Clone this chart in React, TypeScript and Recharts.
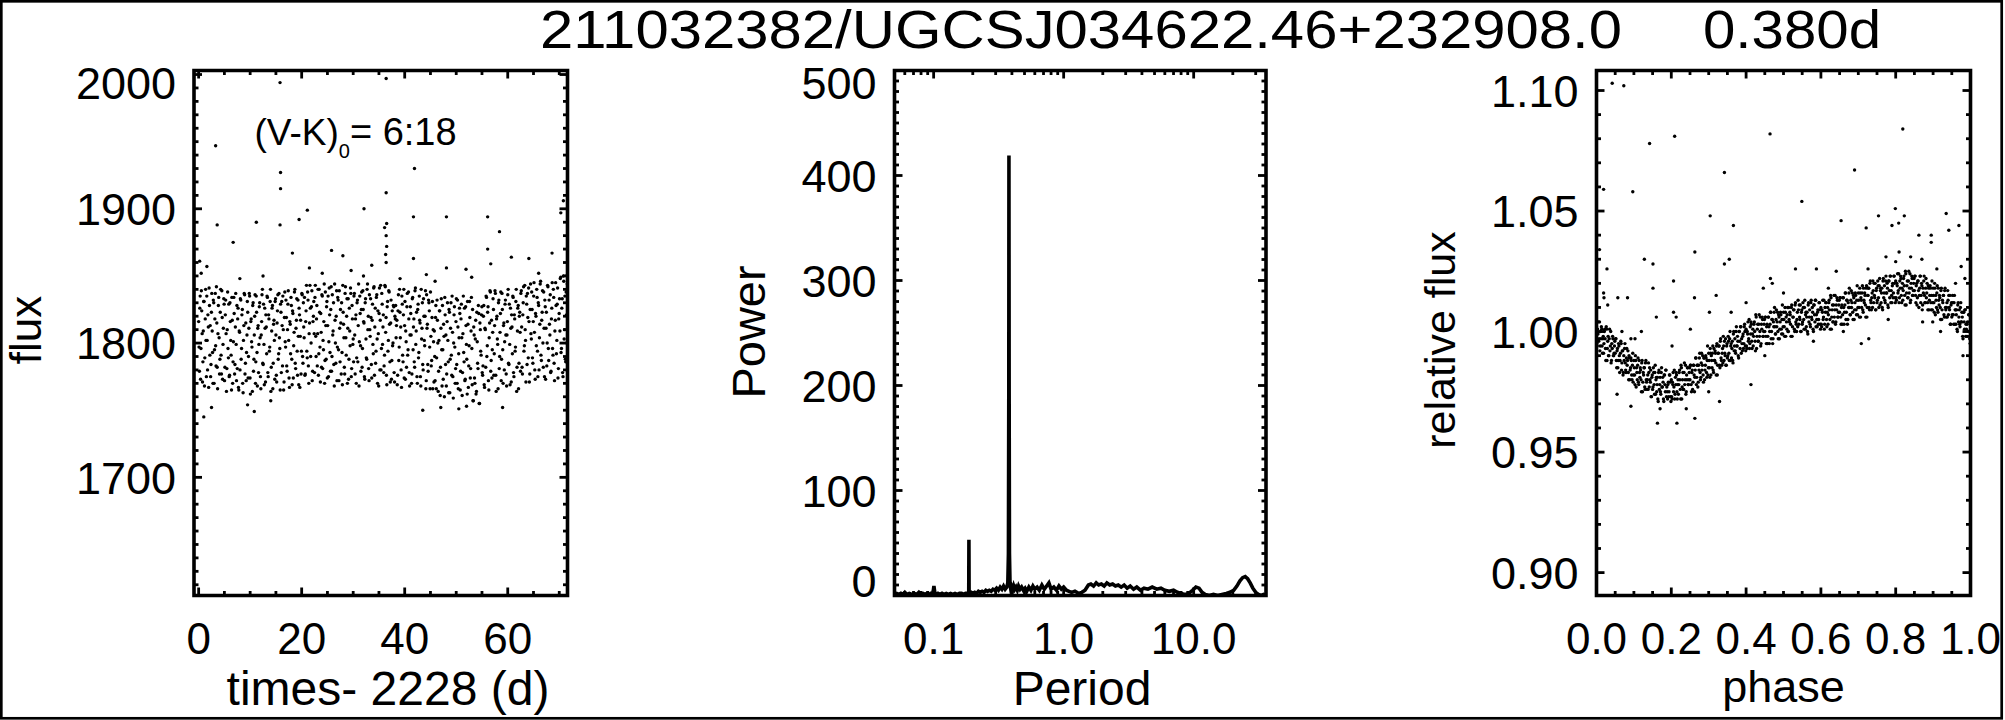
import React from 'react';
import { ScatterChart, Scatter, LineChart, Line, XAxis, YAxis, ReferenceArea } from 'recharts';

const FONT = '"Liberation Sans", Arial, Helvetica, sans-serif';
const W = 2005;
const H = 720;
const TOP = 70.5;
const BOTTOM = 595.5;
const AX = 40; // space reserved by each axis component

// ---------- Panel 1: light curve (time - 2228 d, flux) ----------
const lcTime = [
  0.00,0.15,0.30,0.45,0.60,0.75,0.90,1.05,1.20,1.35,1.50,1.65,1.80,1.95,2.10,2.25,2.40,2.55,2.70,2.85,3.00,3.15,3.30,3.45,3.60,3.75,3.90,4.05,4.20,4.35,4.50,4.65,4.80,4.95,
  5.10,5.25,5.40,5.55,5.70,5.85,6.00,6.15,6.30,6.45,6.60,6.75,6.90,7.05,7.20,7.35,7.50,7.65,7.80,7.95,8.10,8.25,8.40,8.55,8.70,8.85,9.00,9.15,9.30,9.45,9.60,9.75,9.90,10.05,10.20,10.35,10.50,10.65,10.80,10.95,11.10,11.25,11.40,11.55,11.70,11.85,12.00,
  12.15,12.30,12.45,12.60,12.75,12.90,13.05,13.20,13.35,13.50,13.65,13.80,13.95,14.10,14.25,14.40,14.55,14.70,14.85,15.00,15.15,15.30,15.45,15.60,15.75,15.90,16.05,16.20,16.35,16.50,16.65,16.80,16.95,17.10,17.25,17.40,17.55,17.70,17.85,18.00,18.15,18.30,18.45,18.60,18.75,18.90,19.05,19.20,19.35,19.50,19.65,19.80,19.95,20.10,
  20.25,20.40,20.55,20.70,20.85,21.00,21.15,21.30,21.45,21.60,21.75,21.90,22.05,22.20,22.35,22.50,22.65,22.80,22.95,23.10,23.25,23.40,23.55,23.70,23.85,24.00,24.15,24.30,24.45,24.60,24.75,24.90,25.05,25.20,25.35,25.50,25.65,25.80,25.95,26.10,26.25,26.40,26.55,26.70,26.85,27.00,27.15,27.30,27.45,27.60,27.75,27.90,28.05,28.20,28.35,28.50,28.65,28.80,28.95,29.10,29.25,29.40,29.55,29.70,29.85,30.00,
  30.15,30.30,30.45,30.60,30.75,30.90,31.05,31.20,31.35,31.50,31.65,31.80,31.95,32.10,32.25,32.40,32.55,32.70,32.85,33.00,33.15,33.30,33.45,33.60,33.75,33.90,34.05,34.20,34.35,34.50,34.65,34.80,34.95,35.10,35.25,35.40,35.55,35.70,35.85,36.00,36.15,36.30,36.45,36.60,36.75,36.90,37.05,37.20,37.35,37.50,37.65,37.80,37.95,38.10,
  38.25,38.40,38.55,38.70,38.85,39.00,39.15,39.30,39.45,39.60,39.75,39.90,40.05,40.20,40.35,40.50,40.65,40.80,40.95,41.10,41.25,41.40,41.55,41.70,41.85,42.00,42.15,42.30,42.45,42.60,42.75,42.90,43.05,43.20,43.35,43.50,43.65,43.80,43.95,44.10,44.25,44.40,44.55,44.70,44.85,45.00,
  45.15,45.30,45.45,45.60,45.75,45.90,46.05,46.20,46.35,46.50,46.65,46.80,46.95,47.10,47.25,47.40,47.55,47.70,47.85,48.00,48.15,48.30,48.45,48.60,48.75,48.90,49.05,49.20,49.35,49.50,49.65,49.80,49.95,50.10,50.25,50.40,50.55,50.70,50.85,51.00,51.15,51.30,51.45,51.60,51.75,51.90,52.05,52.20,52.35,52.50,52.65,52.80,52.95,53.10,53.25,53.40,53.55,53.70,53.85,54.00,54.15,54.30,54.45,54.60,54.75,54.90,55.05,
  55.20,55.35,55.50,55.65,55.80,55.95,56.10,56.25,56.40,56.55,56.70,56.85,57.00,57.15,57.30,57.45,57.60,57.75,57.90,58.05,58.20,58.35,58.50,58.65,58.80,58.95,59.10,59.25,59.40,59.55,59.70,59.85,60.00,60.15,60.30,60.45,60.60,60.75,60.90,61.05,61.20,61.35,61.50,61.65,61.80,61.95,62.10,
  62.25,62.40,62.55,62.70,62.85,63.00,63.15,63.30,63.45,63.60,63.75,63.90,64.05,64.20,64.35,64.50,64.65,64.80,64.95,65.10,65.25,65.40,65.55,65.70,65.85,66.00,66.15,66.30,66.45,66.60,66.75,66.90,67.05,67.20,67.35,67.50,67.65,67.80,67.95,68.10,68.25,68.40,68.55,68.70,68.85,69.00,69.15,69.30,69.45,69.60,69.75,69.90,70.05,70.20,70.35,70.50,70.65,70.80,70.95,71.10,71.25,71.40,71.55,
];
const lcFlux = [
  1816,1779,1835,1796,1824,1771,1809,1831,1789,1840,1775,1802,1821,1767,1828,1813,1784,1837,1793,1832,1770,1818,1798,1842,1782,1807,1834,1777,1823,1791,1839,1773,1811,1829,
  1782,1832,1764,1810,1796,1829,1776,1816,1791,1834,1770,1801,1822,1784,1837,1772,1781,1826,1765,1808,1833,1788,1821,1770,1802,1837,1777,1815,1793,1831,1774,1811,1835,1762,1818,1797,1828,1779,1806,1836,1786,1823,1768,1813,1799,1830,1775,
  1806,1836,1785,1829,1769,1811,1821,1792,1834,1775,1818,1797,1840,1782,1826,1766,1814,1802,1831,1806,1771,1824,1788,1837,1796,1829,1778,1813,1835,1765,1819,1801,1832,1783,1810,1839,1774,1816,1792,1828,1769,1822,1798,1838,1785,1811,1833,1776,1805,1826,1767,1817,1794,1836,
  1785,1812,1834,1777,1824,1794,1838,1783,1807,1843,1790,1827,1772,1816,1831,1778,1843,1790,1828,1807,1776,1840,1797,1822,1782,1835,1802,1816,1770,1838,1788,1831,1813,1775,1841,1793,1825,1779,1836,1809,1784,1844,1800,1820,1772,1834,1795,1839,1786,1815,1830,1769,1823,1804,1777,1842,1791,1833,1811,1773,1826,1798,1837,1781,1818,1803,
  1835,1806,1818,1770,1830,1786,1844,1801,1822,1779,1838,1796,1825,1815,1773,1833,1789,1840,1810,1781,1836,1805,1819,1774,1829,1792,1842,1812,1785,1834,1803,1824,1768,1841,1817,1780,1837,1799,1821,1783,1843,1808,1776,1827,1794,1839,1814,1771,1832,1787,1798,1828,1778,1820,
  1828,1813,1769,1824,1787,1840,1804,1780,1835,1791,1821,1774,1831,1809,1782,1837,1795,1818,1768,1827,1806,1777,1834,1812,1786,1839,1799,1823,1770,1829,1793,1817,1775,1840,1811,1784,1833,1802,1820,1766,1836,1814,1779,1830,1797,1838,
  1783,1819,1766,1801,1809,1772,1828,1789,1817,1764,1802,1824,1782,1833,1768,1795,1814,1760,1821,1806,1777,1830,1786,1825,1763,1811,1791,1835,1775,1800,1827,1770,1816,1784,1832,1766,1804,1822,1779,1829,1761,1807,1793,1826,1773,1813,1788,1831,1767,1798,1819,1781,1834,1769,1757,1812,1774,1803,1762,1823,1785,1828,1755,1815,1794,1821,1778,
  1783,1828,1767,1810,1835,1790,1823,1772,1804,1839,1779,1817,1795,1833,1776,1813,1837,1764,1820,1799,1830,1781,1808,1838,1788,1825,1770,1815,1801,1832,1777,1806,1836,1785,1829,1769,1811,1821,1792,1834,1775,1818,1797,1840,1782,1826,1766,
  1820,1808,1837,1812,1777,1830,1794,1843,1802,1835,1784,1819,1841,1771,1825,1807,1838,1789,1816,1845,1780,1822,1798,1834,1775,1828,1804,1844,1791,1817,1839,1782,1811,1832,1773,1823,1800,1842,1787,1814,1836,1779,1826,1796,1840,1785,1809,1845,1792,1829,1774,1818,1833,1848,1793,1826,1778,1850,1803,1835,1786,1821,1844,
];
const lcTimeB = [
  0.08,0.23,0.38,0.53,0.68,0.83,0.98,1.13,1.28,1.43,1.58,1.73,1.88,2.03,2.18,2.33,2.48,2.63,2.78,2.93,3.08,3.23,3.38,3.53,3.68,3.83,3.98,4.13,4.28,4.43,4.58,4.73,4.88,5.03,
  5.18,5.33,5.48,5.63,5.78,5.93,6.08,6.23,6.38,6.53,6.68,6.83,6.98,7.13,7.28,7.43,7.58,7.73,7.88,8.03,8.18,8.33,8.48,8.63,8.78,8.93,9.08,9.23,9.38,9.53,9.68,9.83,9.98,10.13,10.28,10.43,10.58,10.73,10.88,11.03,11.18,11.33,11.48,11.63,11.78,11.93,12.08,
  12.23,12.38,12.53,12.68,12.83,12.98,13.13,13.28,13.43,13.58,13.73,13.88,14.03,14.18,14.33,14.48,14.63,14.78,14.93,15.08,15.23,15.38,15.53,15.68,15.83,15.98,16.13,16.28,16.43,16.58,16.73,16.88,17.03,17.18,17.33,17.48,17.63,17.78,17.93,18.08,18.23,18.38,18.53,18.68,18.83,18.98,19.13,19.28,19.43,19.58,19.73,19.88,20.03,20.18,
  20.33,20.48,20.63,20.78,20.93,21.08,21.23,21.38,21.53,21.68,21.83,21.98,22.13,22.28,22.43,22.58,22.73,22.88,23.03,23.18,23.33,23.48,23.63,23.78,23.93,24.08,24.23,24.38,24.53,24.68,24.83,24.98,25.13,25.28,25.43,25.58,25.73,25.88,26.03,26.18,26.33,26.48,26.63,26.78,26.93,27.08,27.23,27.38,27.53,27.68,27.83,27.98,28.13,28.28,28.43,28.58,28.73,28.88,29.03,29.18,29.33,29.48,29.63,29.78,29.93,30.08,
  30.23,30.38,30.53,30.68,30.83,30.98,31.13,31.28,31.43,31.58,31.73,31.88,32.03,32.18,32.33,32.48,32.63,32.78,32.93,33.08,33.23,33.38,33.53,33.68,33.83,33.98,34.13,34.28,34.43,34.58,34.73,34.88,35.03,35.18,35.33,35.48,35.63,35.78,35.93,36.08,36.23,36.38,36.53,36.68,36.83,36.98,37.13,37.28,37.43,37.58,37.73,37.88,38.03,38.18,
  38.33,38.48,38.63,38.78,38.93,39.08,39.23,39.38,39.53,39.68,39.83,39.98,40.13,40.28,40.43,40.58,40.73,40.88,41.03,41.18,41.33,41.48,41.63,41.78,41.93,42.08,42.23,42.38,42.53,42.68,42.83,42.98,43.13,43.28,43.43,43.58,43.73,43.88,44.03,44.18,44.33,44.48,44.63,44.78,44.93,45.08,
  45.23,45.38,45.53,45.68,45.83,45.98,46.13,46.28,46.43,46.58,46.73,46.88,47.03,47.18,47.33,47.48,47.63,47.78,47.93,48.08,48.23,48.38,48.53,48.68,48.83,48.98,49.13,49.28,49.43,49.58,49.73,49.88,50.03,50.18,50.33,50.48,50.63,50.78,50.93,51.08,51.23,51.38,51.53,51.68,51.83,51.98,52.13,52.28,52.43,52.58,52.73,52.88,53.03,53.18,53.33,53.48,53.63,53.78,53.93,54.08,54.23,54.38,54.53,54.68,54.83,54.98,55.13,
  55.28,55.43,55.58,55.73,55.88,56.03,56.18,56.33,56.48,56.63,56.78,56.93,57.08,57.23,57.38,57.53,57.68,57.83,57.98,58.13,58.28,58.43,58.58,58.73,58.88,59.03,59.18,59.33,59.48,59.63,59.78,59.93,60.08,60.23,60.38,60.53,60.68,60.83,60.98,61.13,61.28,61.43,61.58,61.73,61.88,62.03,62.18,
  62.33,62.48,62.63,62.78,62.93,63.08,63.23,63.38,63.53,63.68,63.83,63.98,64.13,64.28,64.43,64.58,64.73,64.88,65.03,65.18,65.33,65.48,65.63,65.78,65.93,66.08,66.23,66.38,66.53,66.68,66.83,66.98,67.13,67.28,67.43,67.58,67.73,67.88,68.03,68.18,68.33,68.48,68.63,68.78,68.93,69.08,69.23,69.38,69.53,69.68,69.83,69.98,70.13,70.28,70.43,70.58,70.73,70.88,71.03,71.18,71.33,71.48,71.58,
];
const lcFluxB = [
  1797,1826,1773,1839,1807,1786,1831,1768,1818,1802,1835,1780,1812,1841,1791,1775,1823,1809,1770,1830,1795,1837,1783,1815,1766,1828,1804,1788,1840,1777,1819,1799,1833,1772,
  1821,1807,1781,1838,1789,1775,1830,1802,1765,1817,1786,1834,1777,1812,1799,1828,1818,1767,1809,1780,1832,1796,1825,1763,1813,1836,1785,1772,1806,1823,1790,1837,1774,1816,1801,1764,1830,1788,1820,1770,1835,1793,1811,1778,1827,1804,1766,
  1816,1840,1784,1799,1826,1771,1812,1835,1778,1821,1794,1831,1764,1809,1828,1785,1817,1773,1833,1776,1815,1836,1792,1804,1765,1823,1831,1783,1810,1771,1838,1797,1819,1779,1829,1802,1767,1814,1834,1788,1824,1774,1808,1840,1781,1817,1794,1832,1769,1821,1805,1777,1837,1790,
  1830,1804,1776,1816,1843,1789,1832,1770,1815,1826,1800,1839,1779,1820,1807,1834,1805,1818,1783,1840,1792,1823,1771,1808,1836,1781,1795,1844,1787,1813,1827,1774,1835,1801,1821,1779,1842,1790,1806,1830,1768,1817,1785,1839,1797,1832,1772,1811,1825,1777,1793,1843,1814,1782,1837,1804,1820,1770,1833,1788,1809,1841,1775,1828,1799,1786,
  1837,1777,1821,1789,1832,1813,1768,1835,1798,1825,1782,1839,1816,1775,1830,1803,1788,1844,1820,1772,1810,1833,1784,1817,1799,1841,1776,1826,1794,1836,1770,1807,1822,1780,1843,1796,1829,1812,1778,1791,1842,1819,1769,1831,1802,1838,1786,1815,1773,1824,1800,1827,1771,1818,
  1804,1817,1776,1836,1797,1823,1812,1767,1829,1786,1840,1813,1773,1801,1827,1791,1838,1778,1806,1822,1770,1833,1795,1818,1782,1841,1809,1775,1825,1789,1835,1815,1768,1803,1830,1780,1820,1798,1839,1772,1811,1784,1832,1824,1766,1805,
  1787,1831,1810,1771,1790,1819,1766,1832,1800,1779,1824,1761,1811,1795,1828,1773,1805,1834,1784,1768,1816,1802,1763,1823,1788,1830,1776,1808,1759,1821,1797,1781,1833,1770,1812,1792,1826,1765,1818,1804,1778,1835,1786,1772,1827,1799,1762,1814,1783,1831,1774,1809,1796,1825,1757,1806,1770,1817,1764,1801,1781,1822,1755,1810,1791,1827,1776,
  1820,1769,1811,1782,1834,1798,1827,1765,1815,1838,1787,1774,1808,1825,1792,1839,1776,1818,1803,1766,1832,1790,1822,1772,1837,1795,1813,1780,1829,1806,1768,1816,1840,1784,1799,1826,1771,1812,1835,1778,1821,1794,1831,1764,1809,1828,1785,
  1823,1779,1839,1782,1821,1842,1798,1810,1771,1829,1837,1789,1816,1777,1844,1803,1825,1785,1835,1808,1773,1820,1840,1794,1830,1780,1814,1846,1787,1823,1800,1838,1775,1827,1811,1783,1843,1796,1832,1806,1778,1818,1845,1791,1834,1772,1817,1828,1802,1841,1781,1822,1809,1849,1796,1833,1775,1846,1810,1788,1838,1800,1851,
];
const lcOutliers: [number, number][] = [
  [15.8,1994],[36.4,1997],[3.3,1947],[15.9,1927],[15.9,1915],[21.1,1899],[3.6,1888],[11.2,1890],[15.8,1888],[19.5,1892],
  [6.7,1875],[36.4,1912],[32.1,1900],[41.7,1894],[48.1,1894],[56.1,1894],[58.4,1883],[70.8,1906],[70.3,1897],[18.2,1867],
  [25.8,1869],[28.0,1865],[36.4,1880],[36.1,1886],[36.5,1889],[41.7,1863],[56.1,1870],[56.7,1859],[60.7,1864],[64.1,1863],
  [68.6,1867],[51.9,1855],[48.1,1856],[33.6,1858],[21.5,1856],[0.2,1861],[1.6,1857],[36.4,1860],[36.3,1866],[36.5,1872],
  [29.6,1854],[32.0,1850],[39.1,1848],[44.2,1851],[45.9,1846],[0.5,1852],[8.0,1848],[12.5,1850],[24.0,1852],[53.0,1849],
  [66.0,1852],[2.5,1752],[9.5,1754],[14.0,1757],[43.5,1750],[47.0,1752],[50.5,1751],[52.0,1753],[59.0,1752],[10.8,1749],
  [1.0,1745],[41.9,1930],
];
const lcXMajor = [0, 20, 40, 60];
const lcYMajor = [1700, 1800, 1900, 2000];

// ---------- Panel 2: periodogram ----------
const perPeriod = [
  0.050,0.052,0.054,0.056,0.058,0.060,0.062,0.065,0.068,0.071,0.074,0.077,0.080,0.083,0.086,0.089,0.092,0.095,0.098,0.0995,0.1005,0.102,0.105,0.108,0.112,0.116,0.120,0.125,0.130,0.135,0.140,0.146,0.152,0.158,0.164,0.170,0.176,0.182,0.1862,0.1868,0.1874,0.190,0.195,0.200,0.207,0.214,0.221,0.228,0.236,0.244,0.252,0.260,0.268,0.277,0.286,0.295,0.305,0.315,0.325,0.335,0.345,0.355,0.365,0.372,0.376,0.3785,0.3795,0.3808,0.383,0.387,0.392,0.398,0.405,0.413,0.421,0.430,0.440,0.450,0.462,0.475,0.490,0.505,0.520,0.540,0.560,0.580,0.600,0.625,0.650,0.680,0.710,0.740,0.770,0.800,0.840,0.880,0.920,0.960,1.00,1.05,1.10,1.15,1.22,1.30,1.38,1.46,1.55,1.62,1.70,1.78,1.86,1.95,2.05,2.15,2.26,2.38,2.50,2.63,2.77,2.92,3.08,3.25,3.45,3.65,3.90,4.15,4.45,4.80,5.20,5.60,6.00,6.50,7.00,7.50,8.00,8.60,9.20,9.80,10.4,11.0,11.6,12.3,13.2,14.2,15.3,16.5,17.8,19.0,20.3,21.5,22.7,23.8,24.9,26.0,27.2,28.5,30.0,31.5,33.0,34.5,36.0,
];
const perPower = [
  1,2,1,2,1,3,1,2,1,2,1,3,1,2,1,2,1,2,2,5,9,3,1,2,1,2,1,2,1,2,1,2,1,2,2,1,2,2,3,53,3,2,3,2,3,2,4,3,4,3,5,4,5,4,6,5,7,5,8,6,9,6,8,12,40,200,419,200,40,10,6,8,5,9,6,8,5,9,6,8,5,7,4,8,5,9,6,8,5,10,6,9,12,6,8,5,9,6,8,5,4,3,4,2,3,5,10,11,9,12,10,11,9,12,10,11,9,10,8,10,7,9,6,8,5,7,6,8,6,7,5,4,5,3,2,1,2,5,8,7,3,1,0,1,0,1,2,3,5,9,14,17,18,16,12,7,3,1,0,1,0,
];
const perXMajor = [0.1, 1, 10];
const perXMinor = [0.05,0.06,0.07,0.08,0.09,0.2,0.3,0.4,0.5,0.6,0.7,0.8,0.9,2,3,4,5,6,7,8,9,20,30];
const perYMajor = [0, 100, 200, 300, 400, 500];

// ---------- Panel 3: phased light curve ----------
const phase = [
  0.000,0.002,0.004,0.006,0.008,0.010,0.012,0.014,0.016,0.018,0.020,0.022,0.024,0.026,0.028,0.030,0.032,0.034,0.036,0.038,0.040,0.042,0.044,0.046,0.048,
  0.050,0.052,0.054,0.056,0.058,0.060,0.062,0.064,0.066,0.068,0.070,0.072,0.074,0.076,0.078,0.080,0.082,0.084,0.086,0.088,0.090,0.092,0.094,0.096,0.098,
  0.100,0.102,0.104,0.106,0.108,0.110,0.112,0.114,0.116,0.118,0.120,0.122,0.124,0.126,0.128,0.130,0.132,0.134,0.136,0.138,0.140,0.142,0.144,0.146,0.148,
  0.150,0.152,0.154,0.156,0.158,0.160,0.162,0.164,0.166,0.168,0.170,0.172,0.174,0.176,0.178,0.180,0.182,0.184,0.186,0.188,0.190,0.192,0.194,0.196,0.198,
  0.200,0.202,0.204,0.206,0.208,0.210,0.212,0.214,0.216,0.218,0.220,0.222,0.224,0.226,0.228,0.230,0.232,0.234,0.236,0.238,0.240,0.242,0.244,0.246,0.248,
  0.250,0.252,0.254,0.256,0.258,0.260,0.262,0.264,0.266,0.268,0.270,0.272,0.274,0.276,0.278,0.280,0.282,0.284,0.286,0.288,0.290,0.292,0.294,0.296,0.298,
  0.300,0.302,0.304,0.306,0.308,0.310,0.312,0.314,0.316,0.318,0.320,0.322,0.324,0.326,0.328,0.330,0.332,0.334,0.336,0.338,0.340,0.342,0.344,0.346,0.348,
  0.350,0.352,0.354,0.356,0.358,0.360,0.362,0.364,0.366,0.368,0.370,0.372,0.374,0.376,0.378,0.380,0.382,0.384,0.386,0.388,0.390,0.392,0.394,0.396,0.398,
  0.400,0.402,0.404,0.406,0.408,0.410,0.412,0.414,0.416,0.418,0.420,0.422,0.424,0.426,0.428,0.430,0.432,0.434,0.436,0.438,0.440,0.442,0.444,0.446,0.448,
  0.450,0.452,0.454,0.456,0.458,0.460,0.462,0.464,0.466,0.468,0.470,0.472,0.474,0.476,0.478,0.480,0.482,0.484,0.486,0.488,0.490,0.492,0.494,0.496,0.498,
  0.500,0.502,0.504,0.506,0.508,0.510,0.512,0.514,0.516,0.518,0.520,0.522,0.524,0.526,0.528,0.530,0.532,0.534,0.536,0.538,0.540,0.542,0.544,0.546,0.548,
  0.550,0.552,0.554,0.556,0.558,0.560,0.562,0.564,0.566,0.568,0.570,0.572,0.574,0.576,0.578,0.580,0.582,0.584,0.586,0.588,0.590,0.592,0.594,0.596,0.598,
  0.600,0.602,0.604,0.606,0.608,0.610,0.612,0.614,0.616,0.618,0.620,0.622,0.624,0.626,0.628,0.630,0.632,0.634,0.636,0.638,0.640,0.642,0.644,0.646,0.648,
  0.650,0.652,0.654,0.656,0.658,0.660,0.662,0.664,0.666,0.668,0.670,0.672,0.674,0.676,0.678,0.680,0.682,0.684,0.686,0.688,0.690,0.692,0.694,0.696,0.698,
  0.700,0.702,0.704,0.706,0.708,0.710,0.712,0.714,0.716,0.718,0.720,0.722,0.724,0.726,0.728,0.730,0.732,0.734,0.736,0.738,0.740,0.742,0.744,0.746,0.748,
  0.750,0.752,0.754,0.756,0.758,0.760,0.762,0.764,0.766,0.768,0.770,0.772,0.774,0.776,0.778,0.780,0.782,0.784,0.786,0.788,0.790,0.792,0.794,0.796,0.798,
  0.800,0.802,0.804,0.806,0.808,0.810,0.812,0.814,0.816,0.818,0.820,0.822,0.824,0.826,0.828,0.830,0.832,0.834,0.836,0.838,0.840,0.842,0.844,0.846,0.848,
  0.850,0.852,0.854,0.856,0.858,0.860,0.862,0.864,0.866,0.868,0.870,0.872,0.874,0.876,0.878,0.880,0.882,0.884,0.886,0.888,0.890,0.892,0.894,0.896,0.898,
  0.900,0.902,0.904,0.906,0.908,0.910,0.912,0.914,0.916,0.918,0.920,0.922,0.924,0.926,0.928,0.930,0.932,0.934,0.936,0.938,0.940,0.942,0.944,0.946,0.948,
  0.950,0.952,0.954,0.956,0.958,0.960,0.962,0.964,0.966,0.968,0.970,0.972,0.974,0.976,0.978,0.980,0.982,0.984,0.986,0.988,0.990,0.992,0.994,0.996,0.998,
];
const relFlux = [
  1.002,0.994,0.999,0.996,1.004,0.994,0.997,1.001,0.991,0.998,0.995,1.001,0.993,1.002,0.988,0.996,0.990,0.997,0.992,1.000,0.988,0.993,0.997,0.990,0.994,
  0.991,0.997,0.985,0.993,0.988,0.994,0.983,0.991,0.995,0.987,0.992,0.983,0.988,0.995,0.984,0.989,0.986,0.992,0.980,0.989,0.984,0.989,0.982,0.986,0.979,
  0.988,0.982,0.990,0.977,0.983,0.986,0.979,0.988,0.981,0.984,0.975,0.988,0.979,0.982,0.985,0.976,0.988,0.979,0.980,0.976,0.983,0.985,0.979,0.973,0.981,
  0.976,0.985,0.978,0.983,0.974,0.981,0.978,0.972,0.983,0.976,0.981,0.974,0.985,0.977,0.979,0.971,0.982,0.975,0.984,0.977,0.972,0.979,0.975,0.982,0.973,
  0.980,0.972,0.978,0.975,0.984,0.974,0.978,0.982,0.972,0.980,0.978,0.984,0.976,0.986,0.972,0.980,0.976,0.983,0.978,0.986,0.975,0.980,0.985,0.978,0.983,
  0.980,0.986,0.975,0.984,0.979,0.986,0.975,0.984,0.989,0.981,0.986,0.979,0.984,0.991,0.980,0.987,0.984,0.990,0.979,0.989,0.984,0.990,0.983,0.988,0.982,
  0.991,0.985,0.993,0.982,0.988,0.991,0.984,0.993,0.988,0.991,0.982,0.995,0.986,0.991,0.994,0.985,0.997,0.988,0.991,0.987,0.994,0.996,0.990,0.986,0.994,
  0.989,0.998,0.991,0.997,0.988,0.995,0.993,0.988,0.999,0.992,0.997,0.991,1.002,0.994,0.996,0.989,1.000,0.993,1.002,0.997,0.992,0.999,0.995,1.003,0.994,
  1.001,0.993,0.999,0.996,1.005,0.995,0.999,1.003,0.993,1.001,0.998,1.004,0.996,1.007,0.993,1.001,0.996,1.003,0.998,1.006,0.995,1.001,1.005,0.998,1.003,
  1.000,1.006,0.995,1.003,0.998,1.006,0.995,1.003,1.008,1.000,1.005,0.997,1.002,1.010,0.999,1.005,1.002,1.008,0.997,1.006,1.001,1.008,1.001,1.005,0.999,
  1.008,1.002,1.010,0.998,1.004,1.007,1.000,1.010,1.004,1.007,0.998,1.011,1.002,1.006,1.009,1.000,1.012,1.003,1.005,1.002,1.009,1.011,1.005,1.000,1.008,
  1.003,1.012,1.005,1.010,1.001,1.008,1.006,1.000,1.011,1.004,1.009,1.002,1.013,1.005,1.008,1.000,1.011,1.004,1.013,1.007,1.002,1.009,1.005,1.012,1.003,
  1.010,1.002,1.008,1.005,1.013,1.003,1.008,1.012,1.002,1.010,1.007,1.013,1.005,1.015,1.001,1.009,1.004,1.011,1.006,1.015,1.004,1.009,1.013,1.006,1.011,
  1.008,1.014,1.003,1.011,1.007,1.014,1.003,1.011,1.016,1.008,1.013,1.005,1.010,1.018,1.007,1.013,1.010,1.016,1.005,1.014,1.009,1.016,1.009,1.013,1.007,
  1.016,1.010,1.018,1.006,1.013,1.016,1.009,1.018,1.012,1.015,1.006,1.019,1.010,1.015,1.018,1.009,1.021,1.012,1.014,1.010,1.017,1.020,1.014,1.009,1.017,
  1.012,1.021,1.014,1.019,1.011,1.018,1.016,1.010,1.021,1.014,1.019,1.012,1.023,1.016,1.018,1.010,1.021,1.014,1.023,1.017,1.012,1.020,1.016,1.023,1.014,
  1.021,1.013,1.019,1.016,1.024,1.014,1.018,1.022,1.012,1.020,1.017,1.023,1.015,1.025,1.011,1.019,1.014,1.021,1.016,1.024,1.013,1.018,1.022,1.015,1.020,
  1.017,1.023,1.012,1.020,1.014,1.021,1.010,1.018,1.023,1.015,1.019,1.011,1.016,1.023,1.012,1.018,1.014,1.020,1.009,1.018,1.013,1.019,1.012,1.015,1.009,
  1.018,1.012,1.020,1.007,1.013,1.016,1.009,1.018,1.011,1.014,1.005,1.018,1.009,1.012,1.015,1.006,1.018,1.009,1.010,1.006,1.013,1.015,1.009,1.003,1.011,
  1.006,1.015,1.007,1.012,1.003,1.009,1.007,1.001,1.011,1.004,1.009,1.002,1.012,1.004,1.006,0.997,1.008,1.001,1.009,1.003,0.998,1.004,1.000,1.007,0.997,
];
const phaseB = [
  0.001,0.003,0.005,0.007,0.009,0.011,0.013,0.015,0.017,0.019,0.021,0.023,0.025,0.027,0.029,0.031,0.033,0.035,0.037,0.039,0.041,0.043,0.045,0.047,0.049,
  0.051,0.053,0.055,0.057,0.059,0.061,0.063,0.065,0.067,0.069,0.071,0.073,0.075,0.077,0.079,0.081,0.083,0.085,0.087,0.089,0.091,0.093,0.095,0.097,0.099,
  0.101,0.103,0.105,0.107,0.109,0.111,0.113,0.115,0.117,0.119,0.121,0.123,0.125,0.127,0.129,0.131,0.133,0.135,0.137,0.139,0.141,0.143,0.145,0.147,0.149,
  0.151,0.153,0.155,0.157,0.159,0.161,0.163,0.165,0.167,0.169,0.171,0.173,0.175,0.177,0.179,0.181,0.183,0.185,0.187,0.189,0.191,0.193,0.195,0.197,0.199,
  0.201,0.203,0.205,0.207,0.209,0.211,0.213,0.215,0.217,0.219,0.221,0.223,0.225,0.227,0.229,0.231,0.233,0.235,0.237,0.239,0.241,0.243,0.245,0.247,0.249,
  0.251,0.253,0.255,0.257,0.259,0.261,0.263,0.265,0.267,0.269,0.271,0.273,0.275,0.277,0.279,0.281,0.283,0.285,0.287,0.289,0.291,0.293,0.295,0.297,0.299,
  0.301,0.303,0.305,0.307,0.309,0.311,0.313,0.315,0.317,0.319,0.321,0.323,0.325,0.327,0.329,0.331,0.333,0.335,0.337,0.339,0.341,0.343,0.345,0.347,0.349,
  0.351,0.353,0.355,0.357,0.359,0.361,0.363,0.365,0.367,0.369,0.371,0.373,0.375,0.377,0.379,0.381,0.383,0.385,0.387,0.389,0.391,0.393,0.395,0.397,0.399,
  0.401,0.403,0.405,0.407,0.409,0.411,0.413,0.415,0.417,0.419,0.421,0.423,0.425,0.427,0.429,0.431,0.433,0.435,0.437,0.439,0.441,0.443,0.445,0.447,0.449,
  0.451,0.453,0.455,0.457,0.459,0.461,0.463,0.465,0.467,0.469,0.471,0.473,0.475,0.477,0.479,0.481,0.483,0.485,0.487,0.489,0.491,0.493,0.495,0.497,0.499,
  0.501,0.503,0.505,0.507,0.509,0.511,0.513,0.515,0.517,0.519,0.521,0.523,0.525,0.527,0.529,0.531,0.533,0.535,0.537,0.539,0.541,0.543,0.545,0.547,0.549,
  0.551,0.553,0.555,0.557,0.559,0.561,0.563,0.565,0.567,0.569,0.571,0.573,0.575,0.577,0.579,0.581,0.583,0.585,0.587,0.589,0.591,0.593,0.595,0.597,0.599,
  0.601,0.603,0.605,0.607,0.609,0.611,0.613,0.615,0.617,0.619,0.621,0.623,0.625,0.627,0.629,0.631,0.633,0.635,0.637,0.639,0.641,0.643,0.645,0.647,0.649,
  0.651,0.653,0.655,0.657,0.659,0.661,0.663,0.665,0.667,0.669,0.671,0.673,0.675,0.677,0.679,0.681,0.683,0.685,0.687,0.689,0.691,0.693,0.695,0.697,0.699,
  0.701,0.703,0.705,0.707,0.709,0.711,0.713,0.715,0.717,0.719,0.721,0.723,0.725,0.727,0.729,0.731,0.733,0.735,0.737,0.739,0.741,0.743,0.745,0.747,0.749,
  0.751,0.753,0.755,0.757,0.759,0.761,0.763,0.765,0.767,0.769,0.771,0.773,0.775,0.777,0.779,0.781,0.783,0.785,0.787,0.789,0.791,0.793,0.795,0.797,0.799,
  0.801,0.803,0.805,0.807,0.809,0.811,0.813,0.815,0.817,0.819,0.821,0.823,0.825,0.827,0.829,0.831,0.833,0.835,0.837,0.839,0.841,0.843,0.845,0.847,0.849,
  0.851,0.853,0.855,0.857,0.859,0.861,0.863,0.865,0.867,0.869,0.871,0.873,0.875,0.877,0.879,0.881,0.883,0.885,0.887,0.889,0.891,0.893,0.895,0.897,0.899,
  0.901,0.903,0.905,0.907,0.909,0.911,0.913,0.915,0.917,0.919,0.921,0.923,0.925,0.927,0.929,0.931,0.933,0.935,0.937,0.939,0.941,0.943,0.945,0.947,0.949,
  0.951,0.953,0.955,0.957,0.959,0.961,0.963,0.965,0.967,0.969,0.971,0.973,0.975,0.977,0.979,0.981,0.983,0.985,0.987,0.989,0.991,0.993,0.995,0.997,0.999,
];
const relFluxB = [
  0.995,1.001,1.004,0.997,0.992,1.000,1.002,0.994,0.997,0.991,1.000,0.997,0.988,1.001,0.993,0.998,0.990,1.001,0.994,0.987,0.995,0.998,0.990,0.991,0.996,
  0.997,0.988,0.992,0.985,0.995,0.990,0.988,0.996,0.984,0.992,0.982,0.990,0.993,0.987,0.983,0.993,0.988,0.983,0.990,0.980,0.985,0.988,0.980,0.991,0.982,
  0.985,0.978,0.988,0.985,0.980,0.989,0.978,0.983,0.985,0.980,0.987,0.975,0.983,0.985,0.977,0.987,0.980,0.976,0.982,0.987,0.977,0.980,0.984,0.973,0.982,
  0.977,0.983,0.974,0.986,0.980,0.975,0.981,0.971,0.984,0.978,0.975,0.983,0.977,0.981,0.972,0.982,0.978,0.984,0.973,0.975,0.978,0.973,0.982,0.979,0.971,
  0.973,0.979,0.983,0.977,0.972,0.981,0.983,0.975,0.978,0.974,0.983,0.980,0.972,0.985,0.977,0.983,0.976,0.987,0.980,0.974,0.982,0.985,0.978,0.980,0.985,
  0.986,0.978,0.983,0.976,0.986,0.982,0.981,0.989,0.978,0.986,0.977,0.986,0.989,0.983,0.981,0.991,0.986,0.982,0.989,0.980,0.986,0.989,0.981,0.994,0.985,
  0.988,0.981,0.991,0.990,0.985,0.994,0.983,0.988,0.992,0.987,0.994,0.982,0.991,0.994,0.986,0.996,0.989,0.986,0.993,0.998,0.988,0.991,0.997,0.986,0.995,
  0.990,0.996,0.988,1.000,0.994,0.989,0.996,0.987,1.000,0.994,0.992,1.000,0.994,0.998,0.990,1.000,0.996,1.002,0.991,0.995,0.998,0.993,1.002,1.000,0.992,
  0.994,1.000,1.004,0.997,0.993,1.002,1.004,0.996,0.999,0.994,1.003,1.000,0.992,1.006,0.998,1.003,0.996,1.007,1.000,0.994,1.003,1.006,0.998,1.000,1.005,
  1.006,0.998,1.002,0.995,1.006,1.002,1.000,1.008,0.997,1.005,0.995,1.004,1.008,1.002,0.999,1.009,1.004,1.000,1.007,0.997,1.004,1.007,0.999,1.011,1.002,
  1.005,0.998,1.008,1.006,1.001,1.010,1.000,1.005,1.008,1.003,1.010,0.998,1.006,1.009,1.001,1.011,1.004,1.000,1.008,1.013,1.003,1.006,1.011,1.000,1.009,
  1.004,1.010,1.001,1.013,1.007,1.002,1.008,0.999,1.012,1.006,1.003,1.012,1.006,1.010,1.001,1.011,1.007,1.013,1.002,1.005,1.008,1.003,1.012,1.009,1.001,
  1.003,1.009,1.013,1.006,1.001,1.010,1.012,1.005,1.008,1.003,1.012,1.009,1.001,1.014,1.006,1.011,1.004,1.015,1.009,1.003,1.011,1.014,1.006,1.008,1.013,
  1.014,1.006,1.010,1.003,1.014,1.010,1.008,1.016,1.005,1.013,1.003,1.012,1.016,1.010,1.007,1.017,1.012,1.008,1.015,1.005,1.012,1.015,1.007,1.019,1.010,
  1.013,1.006,1.016,1.014,1.010,1.019,1.008,1.013,1.016,1.011,1.018,1.006,1.015,1.018,1.010,1.020,1.013,1.009,1.016,1.021,1.012,1.015,1.020,1.009,1.018,
  1.013,1.019,1.010,1.022,1.017,1.012,1.018,1.009,1.022,1.016,1.013,1.021,1.016,1.020,1.011,1.021,1.017,1.023,1.012,1.015,1.019,1.014,1.023,1.020,1.012,
  1.014,1.020,1.024,1.017,1.012,1.021,1.023,1.015,1.018,1.013,1.022,1.019,1.011,1.024,1.016,1.021,1.014,1.025,1.018,1.012,1.020,1.023,1.015,1.017,1.022,
  1.023,1.015,1.019,1.011,1.021,1.017,1.015,1.023,1.012,1.020,1.009,1.018,1.021,1.015,1.012,1.022,1.016,1.012,1.019,1.009,1.015,1.018,1.009,1.021,1.012,
  1.015,1.008,1.018,1.015,1.010,1.019,1.008,1.013,1.015,1.010,1.017,1.005,1.013,1.015,1.007,1.017,1.010,1.006,1.012,1.017,1.007,1.010,1.015,1.003,1.012,
  1.007,1.012,1.003,1.015,1.009,1.003,1.009,1.000,1.012,1.006,1.003,1.010,1.004,1.008,0.998,1.008,1.004,1.009,0.998,1.001,1.003,0.998,1.007,1.004,0.995,
];
const phOutliers: [number, number][] = [
  [0.042,1.103],[0.073,1.102],[0.142,1.078],[0.209,1.081],[0.464,1.082],[0.819,1.084],[0.690,1.067],[0.342,1.066],[0.019,1.059],[0.097,1.058],
  [0.549,1.054],[0.799,1.051],[0.304,1.048],[0.366,1.044],[0.654,1.046],[0.721,1.043],[0.754,1.048],[0.790,1.044],[0.808,1.045],[0.823,1.048],
  [0.935,1.049],[0.942,1.042],[0.969,1.044],[0.862,1.040],[0.895,1.040],[0.895,1.037],[0.008,1.034],[0.263,1.033],[0.128,1.030],[0.151,1.028],
  [0.342,1.028],[0.355,1.030],[0.028,1.026],[0.774,1.031],[0.800,1.029],[0.809,1.033],[0.975,1.027],[0.532,1.026],[0.588,1.026],[0.641,1.025],
  [0.726,1.026],[0.206,1.021],[0.465,1.022],[0.470,1.020],[0.446,1.018],[0.151,1.018],[0.019,1.016],[0.020,1.014],[0.057,1.014],[0.083,1.014],
  [0.262,1.014],[0.320,1.015],[0.160,1.006],[0.206,1.008],[0.213,1.006],[0.302,1.008],[0.251,1.001],[0.202,0.994],[0.092,0.997],[0.103,0.997],
  [0.068,1.000],[0.055,0.974],[0.413,0.978],[0.329,0.971],[0.263,0.964],[0.215,0.962],[0.163,0.962],[0.092,0.969],[0.708,0.995],[0.728,0.997],
  [0.872,1.004],[0.899,1.004],[0.985,1.022],[0.960,1.020],[0.910,1.026],[0.870,1.030],[0.840,1.031],[0.620,1.018],[0.500,1.016],[0.400,1.012],
  [0.360,1.008],[0.120,1.000],[0.030,1.011],[0.170,0.968],[0.240,0.968],[0.300,0.975],[0.450,0.990],[0.580,0.996],[0.660,1.000],[0.780,1.005],
  [0.920,1.000],[0.980,0.990],
];
const phXMajor = [0, 0.2, 0.4, 0.6, 0.8, 1.0];
const phYMajor = [0.90, 0.95, 1.00, 1.05, 1.10];

// ---------- helpers for axis ticks ----------
const steps = (a: number, b: number, s: number) =>
  Array.from({ length: Math.round((b - a) / s) + 1 }, (_, i) => +(a + i * s).toFixed(6));
const isMajor = (v: number, majors: number[]) => majors.some((m) => Math.abs(m - v) < 1e-9);
const zip = (xs: number[], ys: number[]) =>
  xs.slice(0, Math.min(xs.length, ys.length)).map((x, i) => ({ x, y: ys[i] }));

const lcData = [
  ...zip(lcTime, lcFlux),
  ...zip(lcTimeB, lcFluxB),
  ...lcOutliers.map(([x, y]) => ({ x, y })),
];
const perData = perPeriod.map((p, i) => ({ p, pw: perPower[i] ?? 0 }));
const phData = [
  ...zip(phase, relFlux),
  ...zip(phaseB, relFluxB),
  ...phOutliers.map(([x, y]) => ({ x, y })),
];

function XTick(props: any) {
  const { x, payload, majors, fmt } = props;
  const v = payload.value;
  const major = isMajor(v, majors);
  const len = major ? 8 : 4.5;
  return (
    <g>
      <line x1={x} x2={x} y1={BOTTOM} y2={BOTTOM - len} stroke="#000" strokeWidth={2.8} />
      <line x1={x} x2={x} y1={TOP} y2={TOP + len} stroke="#000" strokeWidth={2.8} />
      {major && (
        <text x={x} y={654} textAnchor="middle" fontSize={44} fontFamily={FONT} fill="#000">
          {fmt(v)}
        </text>
      )}
    </g>
  );
}

function YTick(props: any) {
  const { y, payload, majors, fmt, left, right } = props;
  const v = payload.value;
  const major = isMajor(v, majors);
  const len = major ? 8 : 4.5;
  const ly = Math.min(Math.max(y, 83), 581);
  return (
    <g>
      <line x1={left} x2={left + len} y1={y} y2={y} stroke="#000" strokeWidth={2.8} />
      <line x1={right} x2={right - len} y1={y} y2={y} stroke="#000" strokeWidth={2.8} />
      {major && (
        <text x={left - 18} y={ly} dy="0.36em" textAnchor="end" fontSize={45} fontFamily={FONT} fill="#000">
          {fmt(v)}
        </text>
      )}
    </g>
  );
}

const Dot = (p: any) => <circle cx={p.cx} cy={p.cy} r={1.7} fill="#000" />;

const layer: React.CSSProperties = { position: 'absolute', left: 0, top: 0 };
const mkMargin = (l: number, r: number) => ({ top: TOP, bottom: H - BOTTOM - AX, left: l - AX, right: W - r });

export default function App() {
  const p1 = { l: 194, r: 567.5, xd: [-0.9, 71.6], yd: [1612, 2003] };
  const p2 = { l: 894.5, r: 1266, xd: [0.05, 36], yd: [0, 500] };
  const p3 = { l: 1596.5, r: 1970.5, xd: [0, 1], yd: [0.8905, 1.1083] };

  return (
    <div style={{ position: 'absolute', left: 0, top: 0, width: W, height: H, background: '#fff', fontFamily: FONT }}>
      {/* Panel 1 */}
      <div style={layer}>
        <ScatterChart width={W} height={H} margin={mkMargin(p1.l, p1.r)}>
          <XAxis
            type="number" dataKey="x" domain={p1.xd} allowDataOverflow height={AX}
            ticks={steps(0, 70, 5)} interval={0} tickLine={false} axisLine={false}
            tick={<XTick majors={lcXMajor} fmt={(v: number) => String(v)} />}
          />
          <YAxis
            type="number" dataKey="y" domain={p1.yd} allowDataOverflow width={AX}
            ticks={steps(1620, 2000, 10)} interval={0} tickLine={false} axisLine={false}
            tick={<YTick majors={lcYMajor} left={p1.l} right={p1.r} fmt={(v: number) => String(v)} />}
          />
          <ReferenceArea x1={p1.xd[0]} x2={p1.xd[1]} y1={p1.yd[0]} y2={p1.yd[1]} fill="none" fillOpacity={0} stroke="#000" strokeWidth={3.6} ifOverflow="visible" />
          <Scatter data={lcData} isAnimationActive={false} shape={Dot} />
        </ScatterChart>
      </div>

      {/* Panel 2 */}
      <div style={layer}>
        <LineChart width={W} height={H} data={perData} margin={mkMargin(p2.l, p2.r)}>
          <XAxis
            type="number" dataKey="p" scale="log" domain={p2.xd} allowDataOverflow height={AX}
            ticks={[...perXMinor, ...perXMajor].sort((a, b) => a - b)} interval={0} tickLine={false} axisLine={false}
            tick={<XTick majors={perXMajor} fmt={(v: number) => (v < 1 ? String(v) : v.toFixed(1))} />}
          />
          <YAxis
            type="number" domain={p2.yd} allowDataOverflow width={AX}
            ticks={steps(0, 500, 10)} interval={0} tickLine={false} axisLine={false}
            tick={<YTick majors={perYMajor} left={p2.l} right={p2.r} fmt={(v: number) => String(v)} />}
          />
          <ReferenceArea x1={p2.xd[0]} x2={p2.xd[1]} y1={p2.yd[0]} y2={p2.yd[1]} fill="none" fillOpacity={0} stroke="#000" strokeWidth={3.6} ifOverflow="visible" />
          <Line type="linear" dataKey="pw" stroke="#000" strokeWidth={3.6} dot={false} isAnimationActive={false} />
        </LineChart>
      </div>

      {/* Panel 3 */}
      <div style={layer}>
        <ScatterChart width={W} height={H} margin={mkMargin(p3.l, p3.r)}>
          <XAxis
            type="number" dataKey="x" domain={p3.xd} allowDataOverflow height={AX}
            ticks={steps(0, 1, 0.05)} interval={0} tickLine={false} axisLine={false}
            tick={<XTick majors={phXMajor} fmt={(v: number) => v.toFixed(1)} />}
          />
          <YAxis
            type="number" dataKey="y" domain={p3.yd} allowDataOverflow width={AX}
            ticks={steps(0.9, 1.1, 0.01)} interval={0} tickLine={false} axisLine={false}
            tick={<YTick majors={phYMajor} left={p3.l} right={p3.r} fmt={(v: number) => v.toFixed(2)} />}
          />
          <ReferenceArea x1={p3.xd[0]} x2={p3.xd[1]} y1={p3.yd[0]} y2={p3.yd[1]} fill="none" fillOpacity={0} stroke="#000" strokeWidth={3.6} ifOverflow="visible" />
          <Scatter data={phData} isAnimationActive={false} shape={Dot} />
        </ScatterChart>
      </div>

      {/* Titles, labels, frame */}
      <svg width={W} height={H} style={{ ...layer, pointerEvents: 'none' }}>
        <rect x={1.3} y={1.3} width={2000.4} height={717} fill="none" stroke="#000" strokeWidth={2.7} />
        <text x={540} y={48} fontSize={53} fontFamily={FONT} textLength={1082} lengthAdjust="spacingAndGlyphs">
          211032382/UGCSJ034622.46+232908.0
        </text>
        <text x={1703} y={48} fontSize={53} fontFamily={FONT} textLength={178} lengthAdjust="spacingAndGlyphs">
          0.380d
        </text>
        <text x={254.5} y={145} fontSize={37} fontFamily={FONT}>
          (V-K)
          <tspan dy={13} fontSize={20}>0</tspan>
          <tspan dy={-13} fontSize={38}>= 6:18</tspan>
        </text>
        <text transform="translate(41,330) rotate(-90)" textAnchor="middle" fontSize={44} fontFamily={FONT}>flux</text>
        <text transform="translate(765,332) rotate(-90)" textAnchor="middle" fontSize={47} fontFamily={FONT}>Power</text>
        <text transform="translate(1455,340) rotate(-90)" textAnchor="middle" fontSize={43} fontFamily={FONT}>relative flux</text>
        <text x={388} y={705} textAnchor="middle" fontSize={48} fontFamily={FONT}>times- 2228 (d)</text>
        <text x={1082} y={705} textAnchor="middle" fontSize={48} fontFamily={FONT}>Period</text>
        <text x={1783.5} y={702} textAnchor="middle" fontSize={45} fontFamily={FONT}>phase</text>
      </svg>
    </div>
  );
}
